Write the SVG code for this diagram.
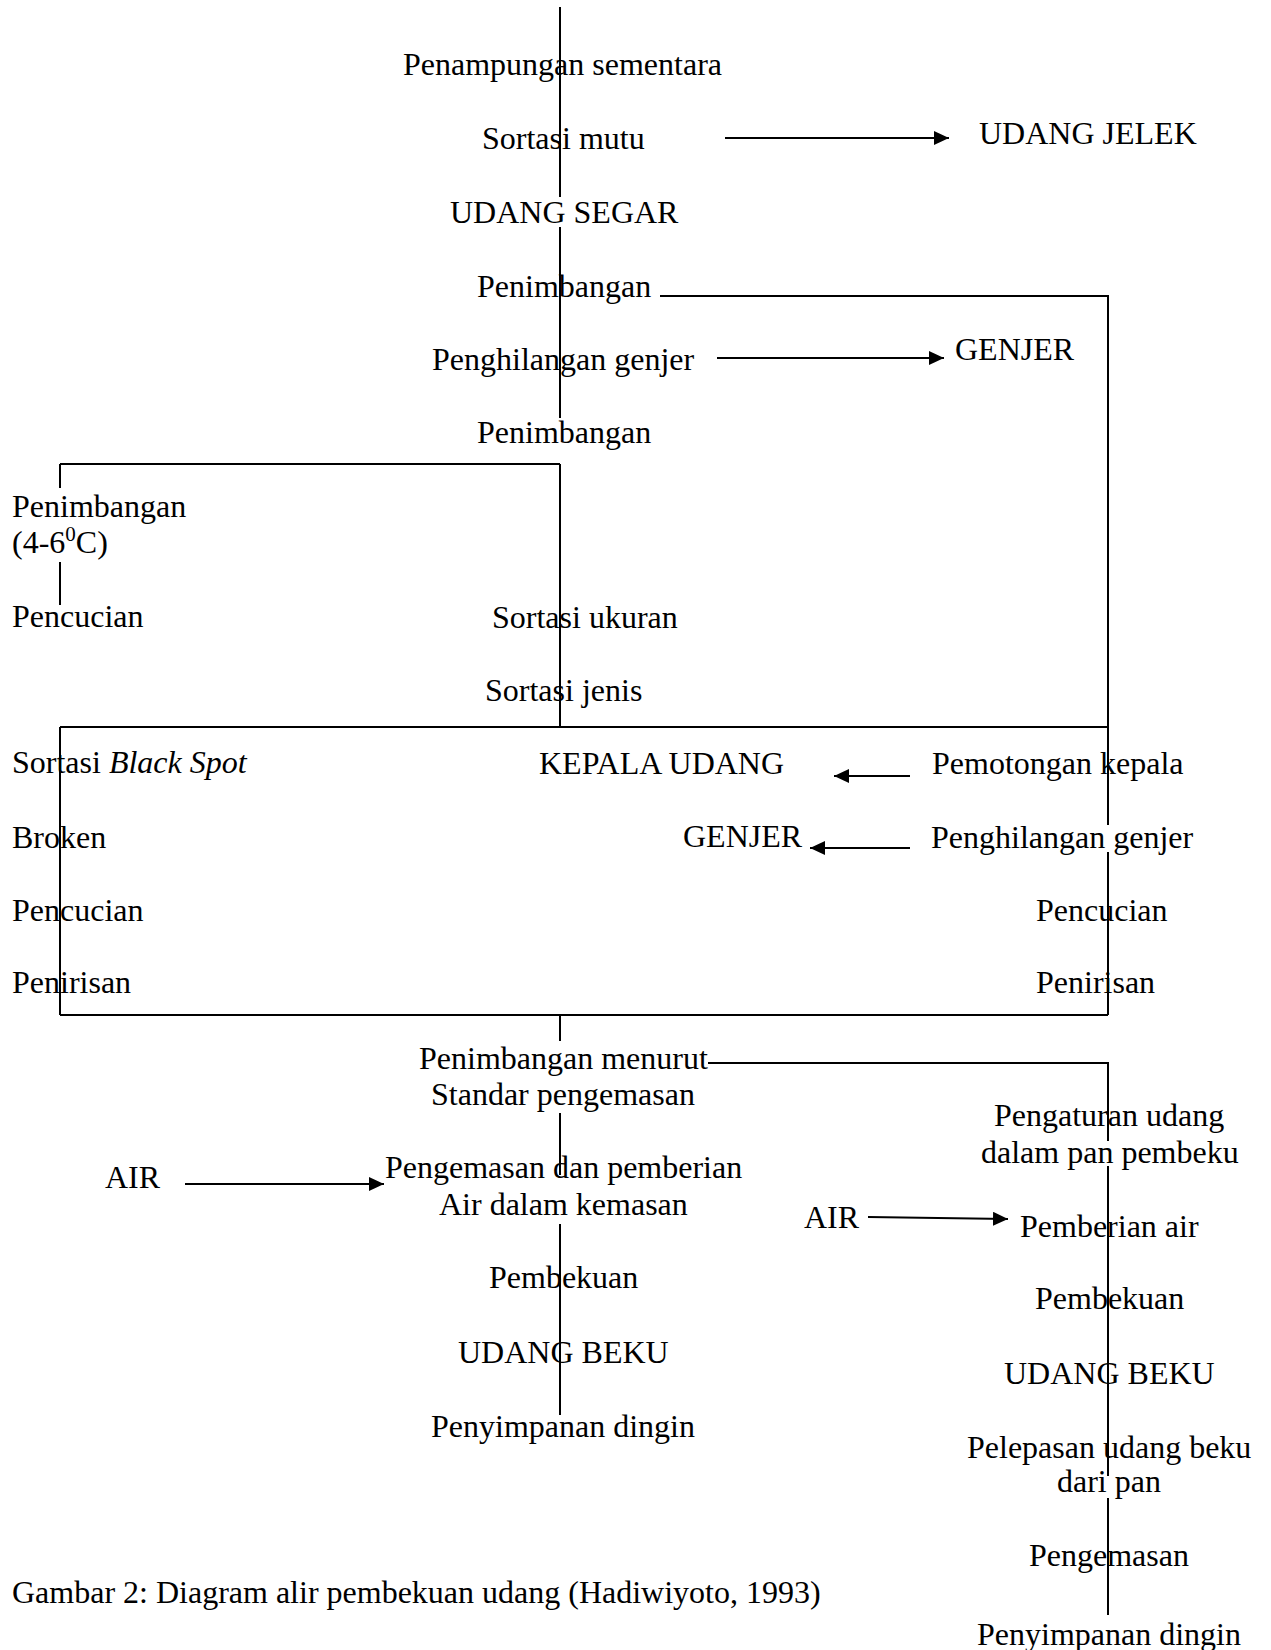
<svg xmlns="http://www.w3.org/2000/svg" width="1271" height="1650" viewBox="0 0 1271 1650">
  <style>
    text { font-family: "Liberation Serif", "Times New Roman", serif; font-size: 32px; fill: #000; }
    .ln { stroke: #000; stroke-width: 2; fill: none; }
    .arr { stroke: #000; stroke-width: 2; fill: none; marker-end: url(#head); }
    .sup { font-size: 21px; }
  </style>
  <defs>
    <marker id="head" markerUnits="userSpaceOnUse" markerWidth="16" markerHeight="14" refX="15" refY="7" orient="auto">
      <path d="M0,0 L15,7 L0,14 z" fill="#000"/>
    </marker>
  </defs>
  <rect width="1271" height="1650" fill="#fff"/>

  <!-- flow lines -->
  <g id="connectors">
    <!-- main column -->
    <line class="ln" x1="560" y1="7" x2="560" y2="197"/>
    <line class="ln" x1="560" y1="227" x2="560" y2="418"/>
    <line class="ln" x1="560" y1="464" x2="560" y2="727"/>
    <line class="ln" x1="560" y1="1015" x2="560" y2="1041"/>
    <line class="ln" x1="560" y1="1113" x2="560" y2="1175"/>
    <line class="ln" x1="560" y1="1224" x2="560" y2="1415"/>
    <!-- bypass from first weighing to head cutting -->
    <polyline class="ln" points="660,296 1108,296 1108,825"/>
    <line class="ln" x1="1108" y1="852" x2="1108" y2="1015"/>
    <!-- branch to chilled weighing -->
    <line class="ln" x1="60" y1="464" x2="560" y2="464"/>
    <line class="ln" x1="60" y1="464" x2="60" y2="488"/>
    <line class="ln" x1="60" y1="562" x2="60" y2="605"/>
    <!-- processing box -->
    <line class="ln" x1="60" y1="727" x2="1108" y2="727"/>
    <line class="ln" x1="60" y1="727" x2="60" y2="1015"/>
    <line class="ln" x1="60" y1="1015" x2="1108" y2="1015"/>
    <!-- block freezing branch -->
    <polyline class="ln" points="708,1063 1108,1063 1108,1141"/>
    <line class="ln" x1="1108" y1="1166" x2="1108" y2="1476"/>
    <line class="ln" x1="1108" y1="1498" x2="1108" y2="1615"/>
    <!-- side arrows -->
    <line class="arr" x1="725" y1="138" x2="949" y2="138"/>
    <line class="arr" x1="717" y1="358" x2="944" y2="358"/>
    <line class="arr" x1="910" y1="776" x2="834" y2="776"/>
    <line class="arr" x1="910" y1="848" x2="810" y2="848"/>
    <line class="arr" x1="185" y1="1184" x2="384" y2="1184"/>
    <line class="arr" x1="868" y1="1217" x2="1008" y2="1219"/>
  </g>

  <!-- main column steps -->
  <g id="penampungan"><text x="403" y="75">Penampungan sementara</text></g>
  <g id="sortasi-mutu"><text x="482" y="149">Sortasi mutu</text></g>
  <g id="udang-jelek"><text x="979" y="144">UDANG JELEK</text></g>
  <g id="udang-segar"><text x="450" y="223">UDANG SEGAR</text></g>
  <g id="penimbangan-1"><text x="477" y="297">Penimbangan</text></g>
  <g id="penghilangan-genjer-1"><text x="432" y="370">Penghilangan genjer</text></g>
  <g id="genjer-1"><text x="955" y="360">GENJER</text></g>
  <g id="penimbangan-2"><text x="477" y="443">Penimbangan</text></g>

  <!-- chilled branch -->
  <g id="penimbangan-dingin">
    <text x="12" y="517">Penimbangan</text>
    <text x="12" y="553">(4-6<tspan class="sup" dy="-12">0</tspan><tspan dy="12">C)</tspan></text>
  </g>
  <g id="pencucian-1"><text x="12" y="627">Pencucian</text></g>
  <g id="sortasi-ukuran"><text x="492" y="628">Sortasi ukuran</text></g>
  <g id="sortasi-jenis"><text x="485" y="701">Sortasi jenis</text></g>

  <!-- box contents -->
  <g id="sortasi-black-spot"><text x="12" y="773">Sortasi <tspan font-style="italic">Black Spot</tspan></text></g>
  <g id="broken"><text x="12" y="848">Broken</text></g>
  <g id="pencucian-2"><text x="12" y="921">Pencucian</text></g>
  <g id="penirisan-1"><text x="12" y="993">Penirisan</text></g>
  <g id="kepala-udang"><text x="539" y="774">KEPALA UDANG</text></g>
  <g id="pemotongan-kepala"><text x="932" y="774">Pemotongan kepala</text></g>
  <g id="genjer-2"><text x="683" y="847">GENJER</text></g>
  <g id="penghilangan-genjer-2"><text x="931" y="848">Penghilangan genjer</text></g>
  <g id="pencucian-3"><text x="1036" y="921">Pencucian</text></g>
  <g id="penirisan-2"><text x="1036" y="993">Penirisan</text></g>

  <!-- packaged freezing -->
  <g id="penimbangan-standar">
    <text x="419" y="1069">Penimbangan menurut</text>
    <text x="431" y="1105">Standar pengemasan</text>
  </g>
  <g id="air-1"><text x="105" y="1188">AIR</text></g>
  <g id="pengemasan-air">
    <text x="385" y="1178">Pengemasan dan pemberian</text>
    <text x="439" y="1215">Air dalam kemasan</text>
  </g>
  <g id="pembekuan-1"><text x="489" y="1288">Pembekuan</text></g>
  <g id="udang-beku-1"><text x="458" y="1363">UDANG BEKU</text></g>
  <g id="penyimpanan-1"><text x="431" y="1437">Penyimpanan dingin</text></g>

  <!-- block freezing -->
  <g id="pengaturan-udang">
    <text x="994" y="1126">Pengaturan udang</text>
    <text x="981" y="1163">dalam pan pembeku</text>
  </g>
  <g id="air-2"><text x="804" y="1228">AIR</text></g>
  <g id="pemberian-air"><text x="1020" y="1237">Pemberian air</text></g>
  <g id="pembekuan-2"><text x="1035" y="1309">Pembekuan</text></g>
  <g id="udang-beku-2"><text x="1004" y="1384">UDANG BEKU</text></g>
  <g id="pelepasan">
    <text x="967" y="1458">Pelepasan udang beku</text>
    <text x="1057" y="1492">dari pan</text>
  </g>
  <g id="pengemasan"><text x="1029" y="1566">Pengemasan</text></g>
  <g id="penyimpanan-2"><text x="977" y="1645">Penyimpanan dingin</text></g>

  <g id="caption"><text x="12" y="1603">Gambar 2: Diagram alir pembekuan udang (Hadiwiyoto, 1993)</text></g>
</svg>
